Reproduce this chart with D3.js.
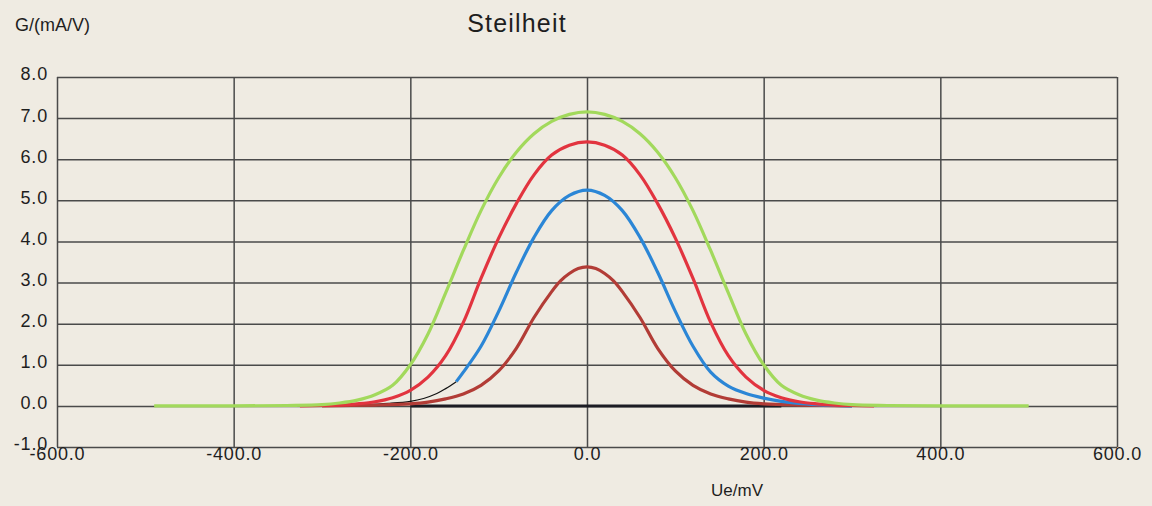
<!DOCTYPE html>
<html lang="de">
<head>
<meta charset="utf-8">
<title>Steilheit</title>
<script src="https://d3js.org/d3.v7.min.js"></script>
<style>
body{
  margin:0;
  background:#efebe2;
}
svg text{
  font-family:"Liberation Sans", Arial, sans-serif;
  fill:#1e1e1e;
}
.axis path{ display:none; }
.axis line{
  stroke:#4a4a4a;
  stroke-width:1.5;
}
.axis text{ font-size:18px; letter-spacing:0.8px; }
.curve{ fill:none; stroke-linejoin:round; stroke-linecap:butt; }
</style>
</head>
<body>
<div id="chart"></div>
<script>
// tick values
const xTicks = [-600, -400, -200, 0, 200, 400, 600];
const yTicks = [-1, 0, 1, 2, 3, 4, 5, 6, 7, 8];

// Ue in mV and G in mA/V
const greenU = [-490, -400, -340, -300, -280, -260, -240, -220, -200, -180, -160, -140, -120, -100, -80, -60, -40, -20, 0, 20, 40, 60, 80, 100, 120, 140, 160, 180, 200, 220, 240, 260, 280, 300, 340, 400, 500];
const greenG = [0, 0, 0.01, 0.03, 0.07, 0.14, 0.27, 0.5, 1.0, 1.75, 2.75, 3.78, 4.75, 5.55, 6.17, 6.62, 6.92, 7.09, 7.15, 7.09, 6.92, 6.62, 6.17, 5.55, 4.75, 3.78, 2.75, 1.75, 1.0, 0.5, 0.27, 0.14, 0.07, 0.03, 0.01, 0, 0];

const redU = [-325, -300, -280, -260, -240, -220, -200, -180, -160, -140, -120, -100, -80, -60, -40, -20, 0, 20, 40, 60, 80, 100, 120, 140, 160, 180, 200, 220, 240, 260, 280, 300, 325];
const redG = [0, 0.01, 0.02, 0.05, 0.1, 0.2, 0.38, 0.7, 1.22, 2.03, 3.1, 4.08, 4.92, 5.62, 6.1, 6.34, 6.42, 6.34, 6.1, 5.62, 4.92, 4.08, 3.1, 2.03, 1.22, 0.7, 0.38, 0.2, 0.1, 0.05, 0.02, 0.01, 0];

const blueU = [-148, -140, -120, -100, -80, -60, -40, -20, 0, 20, 40, 60, 80, 100, 120, 140, 160, 180, 200, 220, 240, 260, 280, 300];
const blueG = [0.59, 0.82, 1.45, 2.3, 3.25, 4.1, 4.75, 5.12, 5.25, 5.12, 4.75, 4.1, 3.25, 2.3, 1.45, 0.82, 0.48, 0.3, 0.19, 0.11, 0.06, 0.03, 0.01, 0];

const brownU = [-300, -240, -200, -180, -160, -140, -120, -100, -80, -60, -40, -30, -20, -10, 0, 10, 20, 30, 40, 60, 80, 100, 120, 140, 160, 180, 200, 240, 300];
const brownG = [0, 0.02, 0.05, 0.09, 0.17, 0.29, 0.5, 0.85, 1.4, 2.15, 2.78, 3.04, 3.22, 3.34, 3.38, 3.34, 3.22, 3.04, 2.78, 2.15, 1.4, 0.85, 0.5, 0.29, 0.17, 0.09, 0.05, 0.02, 0];

const blackThinU = [-320, -280, -250, -225, -200, -185, -170, -160, -148];
const blackThinG = [0, 0.01, 0.03, 0.06, 0.11, 0.18, 0.3, 0.42, 0.59];

const blackU = [-200, 220];
const blackG = [0, 0];

var W = 1152, H = 506;
var margin = {top:77, right:35, bottom:59, left:57};
var w = W - margin.left - margin.right,
    h = H - margin.top - margin.bottom;

var svg = d3.select("#chart").append("svg")
  .attr("width", W).attr("height", H);

var chart = svg.append("g")
  .attr("transform", "translate(" + margin.left + "," + margin.top + ")");

var x = d3.scaleLinear().domain([-600, 600]).range([0, w]);
var y = d3.scaleLinear().domain([-1, 8]).range([h, 0]);

function fmt(d){ return d.toFixed(1); }

// horizontal grid + y labels
var yAxis = chart.append("g")
  .attr("class", "axis")
  .call(d3.axisLeft(y).tickValues(yTicks).tickFormat(fmt)
    .tickSize(-w).tickPadding(9));
yAxis.selectAll("text").attr("dy", "0.16em");

// vertical grid + x labels
chart.append("g")
  .attr("class", "axis")
  .attr("transform", "translate(0," + h + ")")
  .call(d3.axisBottom(x).tickValues(xTicks).tickFormat(fmt)
    .tickSize(-h).tickPadding(0));

var line = d3.line()
  .x(function(d){ return x(d[0]); })
  .y(function(d){ return y(d[1]); })
  .curve(d3.curveCatmullRom.alpha(0.5));

function series(us, gs, color, sw){
  chart.append("path")
    .datum(d3.zip(us, gs))
    .attr("class", "curve")
    .attr("stroke", color)
    .attr("stroke-width", sw)
    .attr("d", line);
}

series(blackU, blackG, "#1c1c24", 3);
series(blackThinU, blackThinG, "#111", 1.2);
series(brownU, brownG, "#b23c36", 3.2);
series(blueU, blueG, "#2b86d6", 3.2);
series(redU, redG, "#e2343f", 3.2);
series(greenU, greenG, "#a2d95c", 3.2);

// texts
svg.append("text")
  .attr("x", 15).attr("y", 31)
  .style("font-size", "18px")
  .text("G/(mA/V)");

svg.append("text")
  .attr("x", 517).attr("y", 32)
  .attr("text-anchor", "middle")
  .style("font-size", "25px")
  .style("letter-spacing", "1.2px")
  .text("Steilheit");

svg.append("text")
  .attr("x", 737).attr("y", 496)
  .attr("text-anchor", "middle")
  .style("font-size", "17px")
  .text("Ue/mV");
</script>
</body>
</html>
